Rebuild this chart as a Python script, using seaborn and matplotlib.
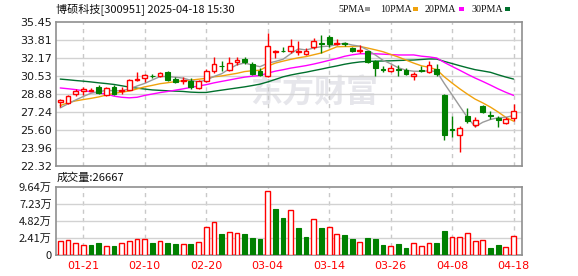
import numpy as np
import pandas as pd
import matplotlib
matplotlib.use("Agg")
import matplotlib.pyplot as plt
from matplotlib.patches import Rectangle
import seaborn as sns

# ---------------- data ----------------
dates = ["01-16", "01-17", "01-20", "01-21", "01-22", "01-23", "01-24", "01-27",
         "02-05", "02-06", "02-07", "02-10", "02-11", "02-12", "02-13", "02-14",
         "02-17", "02-18", "02-19", "02-20", "02-21", "02-24", "02-25", "02-26",
         "02-27", "02-28", "03-03", "03-04", "03-05", "03-06", "03-07", "03-10",
         "03-11", "03-12", "03-13", "03-14", "03-17", "03-18", "03-19", "03-20",
         "03-21", "03-24", "03-25", "03-26", "03-27", "03-28", "03-31", "04-01",
         "04-02", "04-03", "04-07", "04-08", "04-09", "04-10", "04-11", "04-14",
         "04-15", "04-16", "04-17", "04-18"]

opens = [28.12, 28.02, 28.87, 29.13, 29.12, 29.49, 28.79, 29.49, 29.13, 29.25,
         30.15, 30.31, 30.52, 30.52, 30.88, 30.25, 30.00, 30.03, 29.40, 30.00,
         30.91, 31.42, 31.06, 31.73, 32.06, 31.61, 30.91, 30.52, 32.67, 32.82,
         32.81, 32.72, 32.48, 33.12, 33.50, 34.03, 33.40, 33.50, 33.09, 32.82,
         32.73, 31.88, 31.10, 30.97, 31.10, 31.06, 30.46, 31.00, 30.85, 31.15,
         28.78, 25.65, 25.08, 26.87, 26.02, 27.78, 26.93, 26.69, 26.20, 26.63]
highs = [28.40, 28.78, 29.30, 29.46, 29.40, 29.70, 29.49, 29.67, 29.49, 30.20,
         30.90, 30.70, 30.64, 30.85, 30.97, 30.37, 30.40, 30.34, 30.15, 31.15,
         32.27, 31.82, 32.21, 32.21, 32.21, 31.73, 31.21, 34.45, 32.88, 33.18,
         33.90, 33.69, 33.03, 33.94, 34.24, 34.24, 33.85, 33.63, 33.18, 33.33,
         32.82, 31.97, 31.36, 31.52, 31.52, 31.21, 30.82, 31.36, 31.88, 31.58,
         28.85, 26.87, 25.96, 27.57, 26.75, 27.80, 27.26, 26.87, 26.75, 27.96]
lows = [27.65, 27.95, 28.70, 28.80, 29.08, 28.82, 28.70, 28.76, 28.88, 29.20,
        30.00, 29.90, 30.28, 30.40, 30.00, 29.82, 29.80, 29.31, 29.35, 29.94,
        30.76, 30.97, 30.91, 31.52, 31.61, 30.61, 30.52, 30.40, 32.12, 32.64,
        32.57, 32.42, 32.45, 32.97, 32.60, 33.12, 33.30, 33.20, 32.64, 32.57,
        31.70, 30.46, 30.82, 30.82, 30.46, 30.60, 30.10, 30.88, 30.76, 30.52,
        24.62, 24.93, 23.53, 26.20, 25.84, 27.10, 26.57, 25.80, 26.15, 26.35]
closes = [28.30, 28.69, 29.08, 29.28, 29.24, 28.94, 29.40, 28.85, 29.25, 30.15,
          30.25, 30.58, 30.45, 30.79, 30.15, 29.94, 30.15, 29.46, 30.06, 30.97,
          31.61, 31.38, 31.67, 31.97, 31.76, 30.70, 30.61, 33.24, 32.79, 32.76,
          33.24, 32.81, 32.76, 33.67, 33.40, 33.45, 33.48, 33.44, 32.82, 32.88,
          31.73, 31.21, 31.03, 31.21, 31.03, 30.65, 30.72, 30.97, 31.46, 30.70,
          25.14, 25.58, 25.75, 26.35, 26.50, 27.17, 26.87, 26.50, 26.57, 27.30]
# volume in 万 (10k lots)
volumes = [1.93, 2.07, 1.64, 1.36, 1.41, 1.69, 1.22, 1.27, 1.64, 1.93,
           2.21, 2.21, 1.69, 1.93, 1.69, 1.55, 1.50, 1.55, 1.79, 3.90,
           4.60, 2.96, 3.19, 3.05, 2.96, 2.40, 2.26, 8.97, 6.48, 5.21,
           6.30, 3.76, 2.49, 5.03, 3.76, 3.90, 2.91, 2.77, 2.21, 1.79,
           2.35, 2.21, 1.36, 1.22, 1.55, 0.94, 1.64, 1.22, 1.64, 1.69,
           3.38, 2.49, 2.49, 3.05, 1.93, 2.07, 0.99, 1.41, 1.08, 2.6667]

# moving-average values before a full window exists
ma5_head = [27.58, 27.95, 28.30, 28.62]
ma10_head = [27.79, 28.05, 28.22, 28.34, 28.45, 28.58, 28.75, 28.90, 29.02]
ma20_head = [29.40, 29.33, 29.25, 29.15, 29.05, 28.93, 28.85, 28.65, 28.55, 28.50,
             28.55, 28.72, 28.85, 28.98, 29.08, 29.20, 29.32, 29.45, 29.58]
ma30_head = [30.21, 30.15, 30.08, 30.02, 29.95, 29.87, 29.80, 29.72, 29.60, 29.48,
             29.38, 29.30, 29.22, 29.18, 29.14, 29.11, 29.08, 29.02, 28.99, 28.99,
             29.10, 29.20, 29.30, 29.40, 29.50, 29.62, 29.75, 29.95, 30.18]

price_ticks = [22.32, 23.96, 25.60, 27.24, 28.88, 30.53, 32.17, 33.81, 35.45]
vol_ticks = [0, 2.41, 4.82, 7.23, 9.64]
vol_tick_labels = ["0", "2.41万", "4.82万", "7.23万", "9.64万"]
shown_dates = ["01-21", "02-10", "02-20", "03-04", "03-14", "03-26", "04-08", "04-18"]
title = "博硕科技[300951] 2025-04-18 15:30"

# ---------------- derived ----------------
df = pd.DataFrame({"date": dates, "open": opens, "high": highs, "low": lows,
                   "close": closes, "vol": volumes})
df["idx"] = np.arange(len(df))
for n, head in [(5, ma5_head), (10, ma10_head), (20, ma20_head), (30, ma30_head)]:
    m = df["close"].rolling(n).mean()
    m.iloc[:len(head)] = head
    df[f"ma{n}"] = m

RED = "#ff0000"
GREEN = "#008000"
ma_colors = {"ma5": "#9a9a9a", "ma10": "#f0a20c", "ma20": "#ff00ff", "ma30": "#00702d"}

sns.set_theme(style="white")
plt.rcParams["font.family"] = ["DejaVu Sans"]
cjk = ["Noto Sans CJK SC", "DejaVu Sans"]

W, H = 578, 276
fig = plt.figure(figsize=(W / 100, H / 100), dpi=100)
fig.patch.set_facecolor("white")

def fx(px):
    return px / W

def fy(py):
    return 1 - py / H

L, R = 56, 522
ax = fig.add_axes([fx(L), fy(165.5), fx(R - L), (165.5 - 21.7) / H])
axv = fig.add_axes([fx(L), fy(255), fx(R - L), (255 - 186.7) / H], sharex=ax)

tick_pos = [dates.index(d) for d in shown_dates]
for a in (ax, axv):
    a.set_facecolor("white")
    for s in a.spines.values():
        s.set_color("#8f8f8f")
        s.set_linewidth(1.2)
    for p in tick_pos:
        a.axvline(p, color="#c9c9c9", lw=1, ls=(0, (3, 3)), zorder=1)
    a.tick_params(axis="both", length=0)

# watermark
ax.text(0.553, 0.50, "东方财富", transform=ax.transAxes, ha="center", va="center",
        fontsize=23, fontweight="bold", color="#e6e6eb", family=cjk, zorder=0.5)

# ---------------- main price panel ----------------
ax.set_ylim(price_ticks[0], price_ticks[-1])
ax.set_yticks(price_ticks)
ax.set_yticklabels([f"{t:.2f}" for t in price_ticks], fontsize=8, color="#1a1a1a")
ax.tick_params(axis="y", pad=3)
for t in price_ticks[1:-1]:
    ax.axhline(t, color="#d2d2d2", lw=1, zorder=1)

for col in ["ma30", "ma20", "ma10", "ma5"]:
    sns.lineplot(data=df, x="idx", y=col, ax=ax, color=ma_colors[col], lw=1.0,
                 zorder=2, legend=False)

up = df["close"] >= df["open"]
colors = np.where(up, RED, GREEN)
ax.vlines(df["idx"], df["low"], df["high"], colors=colors, lw=1.0, zorder=3)
body_bottom = np.minimum(df["open"], df["close"])
body_h = np.maximum(np.abs(df["close"] - df["open"]), 0.04)
bw = 0.62
ax.bar(df["idx"][up], body_h[up], bottom=body_bottom[up], width=bw,
       facecolor="white", edgecolor=RED, linewidth=1.0, zorder=4)
ax.bar(df["idx"][~up], body_h[~up], bottom=body_bottom[~up], width=bw,
       facecolor=GREEN, edgecolor=GREEN, linewidth=0.8, zorder=4)
ax.set_xlim(-0.55, 60.1)
ax.set_xlabel("")
ax.set_ylabel("")
plt.setp(ax.get_xticklabels(), visible=False)

# ---------------- volume panel ----------------
prev_close = df["close"].shift(1)
vup = np.where(prev_close.isna(), up, df["close"] >= prev_close)
axv.set_ylim(0, vol_ticks[-1])
axv.set_yticks(vol_ticks)
axv.set_yticklabels(vol_tick_labels, fontsize=8, color="#1a1a1a", family=cjk)
axv.tick_params(axis="y", pad=3)
for t in vol_ticks[1:-1]:
    axv.axhline(t, color="#d2d2d2", lw=1, zorder=1)
axv.bar(df["idx"][vup], df["vol"][vup], width=bw, facecolor="white",
        edgecolor=RED, linewidth=1.0, zorder=4)
axv.bar(df["idx"][~vup], df["vol"][~vup], width=bw, facecolor=GREEN,
        edgecolor=GREEN, linewidth=0.8, zorder=4)
axv.set_xticks(tick_pos)
axv.set_xticklabels(shown_dates, fontsize=8, color=RED)
axv.tick_params(axis="x", pad=4)
axv.set_xlabel("")
axv.set_ylabel("")

# ---------------- texts ----------------
fig.text(fx(56), fy(9), title, fontsize=8, va="center", ha="left",
         family=cjk, color="#111111")
fig.text(fx(57), fy(178), f"成交量:{round(volumes[-1] * 10000)}", fontsize=8,
         va="center", ha="left", family=cjk, color="#111111")

legend_items = [("5PMA", "ma5", 338, 365), ("10PMA", "ma10", 380, 413),
                ("20PMA", "ma20", 425, 459), ("30PMA", "ma30", 471, 505)]
for label, key, tx, mx in legend_items:
    fig.text(fx(tx), fy(9), label, fontsize=7.2, va="center", ha="left",
             family=["Liberation Serif", "DejaVu Serif"], color="#111111")
    fig.patches.append(Rectangle((fx(mx), fy(10.5)), fx(5), 3 / H,
                                 transform=fig.transFigure, facecolor=ma_colors[key],
                                 edgecolor="none"))

fig.savefig("out.png", dpi=100, facecolor="white")
